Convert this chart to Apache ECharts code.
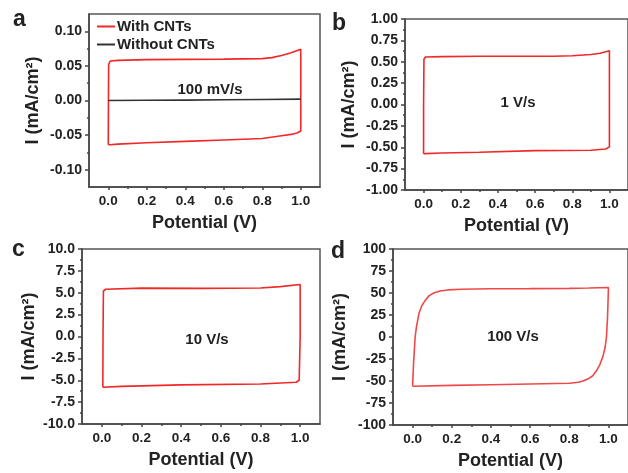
<!DOCTYPE html>
<html><head><meta charset="utf-8">
<script src="https://cdn.jsdelivr.net/npm/echarts@6/dist/echarts.min.js"></script>
<style>html,body{margin:0;padding:0;background:#fff;overflow:hidden}#c{width:628px;height:473px}</style>
</head><body><div id="c"></div>
<script>
// ---- data ----
const xTickLabels = [0, 0.2, 0.4, 0.6, 0.8, 1.0];
const xMinorTicks = [0.1, 0.3, 0.5, 0.7, 0.9];
const aYTicks = [-0.1, -0.05, 0, 0.05, 0.1];
const aYMinor = [-0.075, -0.025, 0.025, 0.075];
const bYTicks = [-1, -0.75, -0.5, -0.25, 0, 0.25, 0.5, 0.75, 1];
const bYMinor = [-0.875, -0.625, -0.375, -0.125, 0.125, 0.375, 0.625, 0.875];
const cYTicks = [-10, -7.5, -5, -2.5, 0, 2.5, 5, 7.5, 10];
const cYMinor = [-8.75, -6.25, -3.75, -1.25, 1.25, 3.75, 6.25, 8.75];
const dYTicks = [-100, -75, -50, -25, 0, 25, 50, 75, 100];
const dYMinor = [-87.5, -62.5, -37.5, -12.5, 12.5, 37.5, 62.5, 87.5];

const seriesNames = ['With CNTs', 'Without CNTs'];
const scanLabels = ['100 mV/s', '1 V/s', '10 V/s', '100 V/s'];

const loopA = [[0.0,-0.064],[0.001,0.0],[0.002,0.052],[0.01,0.057],[0.05,0.058],[0.2,0.059],[0.4,0.0595],[0.6,0.0598],[0.8,0.0605],[0.85,0.062],[0.9,0.065],[0.95,0.069],[1.0,0.074],[1.0,0.02],[1.0,-0.044],[0.98,-0.047],[0.95,-0.049],[0.9,-0.051],[0.8,-0.055],[0.6,-0.057],[0.4,-0.059],[0.2,-0.061],[0.05,-0.063],[0.01,-0.064],[0.0,-0.064]];
const lineA0 = [[0.0,0.0],[0.2,0.0003],[0.4,0.0006],[0.6,0.001],[0.8,0.0015],[1.0,0.002]];
const loopB = [[0.0,-0.575],[0.0,0.0],[0.002,0.53],[0.01,0.556],[0.1,0.56],[0.3,0.565],[0.5,0.565],[0.7,0.565],[0.8,0.57],[0.9,0.585],[0.95,0.6],[1.0,0.628],[1.0,0.0],[1.0,-0.496],[0.98,-0.52],[0.9,-0.535],[0.6,-0.54],[0.3,-0.558],[0.1,-0.568],[0.01,-0.574],[0.0,-0.575]];
const loopC = [[0.005,-5.8],[0.006,0.0],[0.008,5.2],[0.02,5.4],[0.2,5.53],[0.5,5.5],[0.8,5.55],[0.9,5.7],[1.0,5.95],[1.0,0.0],[0.995,-5.0],[0.98,-5.23],[0.8,-5.42],[0.4,-5.53],[0.1,-5.7],[0.005,-5.8]];
const loopD = [[0.0,-56],[0.002,-45],[0.005,-30],[0.009,-15],[0.013,0],[0.02,12],[0.033,27],[0.048,36],[0.066,42],[0.085,47],[0.108,50],[0.14,52.3],[0.18,53.5],[0.25,54.3],[0.4,54.8],[0.6,55],[0.8,55.3],[0.9,55.6],[1.0,56.3],[0.998,40],[0.995,20],[0.99,0],[0.983,-12],[0.972,-22],[0.955,-32],[0.94,-38],[0.92,-44],[0.897,-47.5],[0.87,-50],[0.847,-51.5],[0.8,-52.5],[0.6,-53.4],[0.4,-54.2],[0.2,-55],[0.0,-56]];

// ---- layout ----
const FONT = "'Liberation Sans', Arial, sans-serif";
const RED = '#f02828';
const AX = '#444';
const grids = [
  {left: 89, top: 14, width: 231, height: 173},
  {left: 405, top: 19, width: 230, height: 171},
  {left: 82, top: 249, width: 238, height: 175},
  {left: 393, top: 249, width: 241, height: 176}
];
const yDefs = [
  {min: -0.125, max: 0.125, ticks: aYTicks, minor: aYMinor, fmt: v => v.toFixed(2)},
  {min: -1, max: 1, ticks: bYTicks, minor: bYMinor, fmt: v => v.toFixed(2)},
  {min: -10, max: 10, ticks: cYTicks, minor: cYMinor, fmt: v => v.toFixed(1)},
  {min: -100, max: 100, ticks: dYTicks, minor: dYMinor, fmt: v => String(Math.round(v))}
];
const yNameGap = [47, 47, 44, 44];

const xAxes = [], yAxes = [];
grids.forEach((g, i) => {
  xAxes.push({
    type: 'value', gridIndex: i, min: -0.1, max: 1.1, position: 'bottom',
    name: 'Potential (V)', nameLocation: 'middle', nameGap: 27,
    nameTextStyle: {fontFamily: FONT, fontWeight: 'bold', fontSize: 18, color: '#222'},
    axisLine: {show: true, onZero: false, lineStyle: {color: AX, width: 1.5}},
    axisTick: {show: true, customValues: xTickLabels, length: 3, inside: false, lineStyle: {color: AX, width: 1.5}},
    axisLabel: {show: true, customValues: xTickLabels, formatter: v => v.toFixed(1), margin: 7,
      fontFamily: FONT, fontWeight: 'bold', fontSize: 13.5, color: '#222'},
    splitLine: {show: false}
  });
  xAxes.push({
    type: 'value', gridIndex: i, min: -0.1, max: 1.1, position: 'bottom', offset: 0,
    axisLine: {show: false, onZero: false},
    axisTick: {show: true, customValues: xMinorTicks, length: 2, lineStyle: {color: AX, width: 1.5}},
    axisLabel: {show: false}, splitLine: {show: false}
  });
  const d = yDefs[i];
  yAxes.push({
    type: 'value', gridIndex: i, min: d.min, max: d.max, position: 'left',
    name: 'I (mA/cm²)', nameLocation: 'middle', nameGap: yNameGap[i], nameRotate: 90,
    nameTextStyle: {fontFamily: FONT, fontWeight: 'bold', fontSize: 18, color: '#222'},
    axisLine: {show: true, onZero: false, lineStyle: {color: AX, width: 1.5}},
    axisTick: {show: true, customValues: d.ticks, length: 4, lineStyle: {color: AX, width: 1.5}},
    axisLabel: {show: true, customValues: d.ticks, formatter: d.fmt, margin: 7,
      fontFamily: FONT, fontWeight: 'bold', fontSize: 14, color: '#222'},
    splitLine: {show: false}
  });
  yAxes.push({
    type: 'value', gridIndex: i, min: d.min, max: d.max, position: 'left', offset: 0,
    axisLine: {show: false, onZero: false},
    axisTick: {show: true, customValues: d.minor, length: 2, lineStyle: {color: AX, width: 1.5}},
    axisLabel: {show: false}, splitLine: {show: false}
  });
});

function lineSeries(name, data, i, color) {
  return {
    type: 'line', name: name, data: data, xAxisIndex: 2 * i, yAxisIndex: 2 * i,
    symbol: 'none', showSymbol: false, silent: true, animation: false,
    lineStyle: {color: color, width: 1.6}, itemStyle: {color: color}
  };
}

const series = [
  lineSeries(seriesNames[0], loopA, 0, RED),
  lineSeries(seriesNames[1], lineA0, 0, '#333'),
  lineSeries('b', loopB, 1, RED),
  lineSeries('c', loopC, 2, RED),
  lineSeries('d', loopD, 3, '#f04848')
];

const letters = [
  {t: 'a', x: 13, y: 20}, {t: 'b', x: 332, y: 24},
  {t: 'c', x: 12, y: 250}, {t: 'd', x: 331, y: 252}
];
const notes = [
  {x: 210, y: 90}, {x: 518, y: 103}, {x: 207, y: 340}, {x: 513, y: 337}
];
const graphic = [];
letters.forEach(l => graphic.push({type: 'text', left: l.x, top: l.y - 12,
  style: {text: l.t, font: 'bold 23px ' + FONT, fill: '#222'}}));
notes.forEach((n, i) => graphic.push({type: 'text', x: n.x, y: n.y,
  style: {text: scanLabels[i], font: 'bold 15px ' + FONT, fill: '#222', align: 'center', verticalAlign: 'middle'}}));

const chart = echarts.init(document.getElementById('c'), null, {renderer: 'canvas'});
chart.setOption({
  animation: false,
  backgroundColor: '#fff',
  grid: grids.map(g => Object.assign({show: true, borderColor: '#555', borderWidth: 1.5, backgroundColor: 'transparent'}, g)),
  xAxis: xAxes,
  yAxis: yAxes,
  legend: {
    data: seriesNames.map(n => ({name: n, icon: 'rect'})),
    orient: 'vertical', left: 97, top: 19, padding: 0, itemWidth: 18, itemHeight: 2, itemGap: 3,
    textStyle: {fontFamily: FONT, fontWeight: 'bold', fontSize: 15, color: '#222', padding: [0, 0, 0, -3]},
    selectedMode: false
  },
  series: series,
  graphic: graphic
});
</script></body></html>
